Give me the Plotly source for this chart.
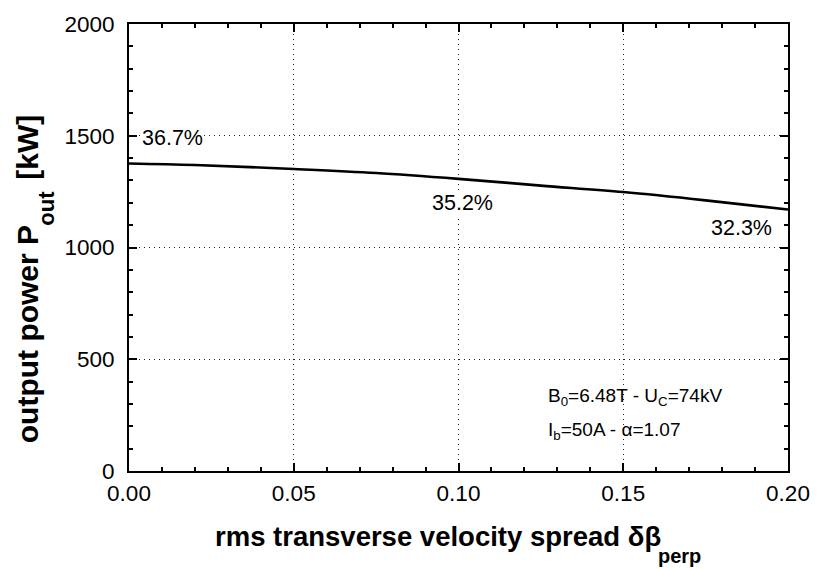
import plotly.graph_objects as go

x_spread = [0.0, 0.02, 0.05, 0.075, 0.10, 0.125, 0.15, 0.175, 0.20]
p_out = [1376, 1369, 1351, 1333, 1307, 1277, 1248, 1211, 1170]

eff_labels = ["36.7%", "35.2%", "32.3%"]
eff_x = [0.0035, 0.1012, 0.1955]
eff_y = [1490, 1197, 1086]
eff_anchor = ["left", "center", "right"]

x_ticks = [0.00, 0.05, 0.10, 0.15, 0.20]
y_ticks = [0, 500, 1000, 1500, 2000]

font = "Liberation Sans, Arial, sans-serif"

# plot area in pixels (for title placement in paper coords)
L, R, T, B = 129, 797, 18, 471
W, H = R - L, B - T


def px(xp):
    return (xp - L) / W


def py(yp):
    return (B - yp) / H


fig = go.Figure()
fig.add_trace(go.Scatter(x=x_spread, y=p_out, mode="lines",
                         line=dict(color="black", width=2.6, shape="spline"),
                         showlegend=False))

for t, xx, yy, an in zip(eff_labels, eff_x, eff_y, eff_anchor):
    fig.add_annotation(x=xx, y=yy, text=t, showarrow=False, xanchor=an,
                       yanchor="middle", font=dict(family=font, size=21.5, color="black"),
                       bgcolor="white", borderpad=0)

# white background behind the parameter box
fig.add_shape(type="rect", xref="paper", yref="paper", x0=px(545), x1=1, y0=0, y1=py(369),
              fillcolor="white", line=dict(width=0), layer="between")

fig.add_annotation(x=0.1266, y=331, xref="x", yref="y", showarrow=False, xanchor="left",
                   yanchor="middle", align="left",
                   text="B<sub>0</sub>=6.48T - U<sub>C</sub>=74kV",
                   font=dict(family=font, size=19, color="black"))
fig.add_annotation(x=0.1266, y=181, xref="x", yref="y", showarrow=False, xanchor="left",
                   yanchor="middle", align="left",
                   text="I<sub>b</sub>=50A - α=1.07",
                   font=dict(family=font, size=19, color="black"))

# x-axis title (main part + lowered subscript)
fig.add_annotation(x=px(214), y=py(537), xref="paper", yref="paper", showarrow=False,
                   xanchor="left", yanchor="middle",
                   text="<b>rms transverse velocity spread δβ</b>",
                   font=dict(family=font, size=27.5, color="black"))
fig.add_annotation(x=px(663), y=py(557), xref="paper", yref="paper", showarrow=False,
                   xanchor="left", yanchor="middle",
                   text="<b>perp</b>",
                   font=dict(family=font, size=20, color="black"))

# y-axis title (rotated; main part, lowered subscript, unit)
fig.add_annotation(x=px(26), y=py(332), xref="paper", yref="paper", showarrow=False,
                   textangle=-90, xanchor="center", yanchor="middle",
                   text="<b>output power P</b>",
                   font=dict(family=font, size=30, color="black"))
fig.add_annotation(x=px(45), y=py(205), xref="paper", yref="paper", showarrow=False,
                   textangle=-90, xanchor="center", yanchor="middle",
                   text="<b>out</b>",
                   font=dict(family=font, size=22, color="black"))
fig.add_annotation(x=px(26), y=py(143), xref="paper", yref="paper", showarrow=False,
                   textangle=-90, xanchor="center", yanchor="middle",
                   text="<b>[kW]</b>",
                   font=dict(family=font, size=30, color="black"))

axis_common = dict(
    showline=True, linecolor="black", linewidth=2, mirror="allticks",
    ticks="inside", ticklen=8, tickwidth=1.5, tickcolor="black",
    showgrid=True, gridcolor="#222", griddash="1px,4px", gridwidth=1.2,
    zeroline=False, tickfont=dict(family=font, size=22.5, color="black"),
)

fig.update_xaxes(range=[0, 0.2], tickvals=x_ticks,
                 ticktext=[f"{v:.2f}" for v in x_ticks],
                 minor=dict(ticks="inside", dtick=0.01, ticklen=4, tickcolor="black", showgrid=False),
                 ticklabelstandoff=1,
                 **axis_common)
fig.update_yaxes(range=[0, 2000], tickvals=y_ticks,
                 minor=dict(ticks="inside", dtick=100, ticklen=4, tickcolor="black", showgrid=False),
                 ticklabelstandoff=8,
                 **axis_common)

fig.update_layout(width=822, height=569, margin=dict(l=L, r=822 - R, t=T, b=569 - B),
                  plot_bgcolor="white", paper_bgcolor="white")

fig.write_html("out.html")
